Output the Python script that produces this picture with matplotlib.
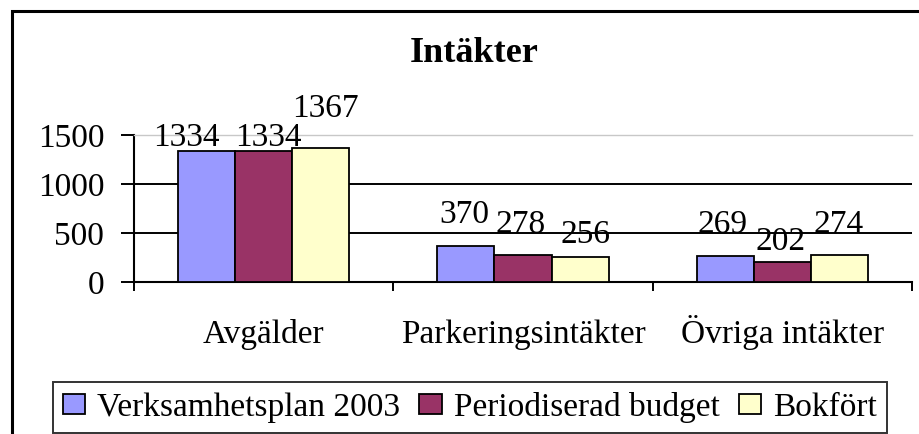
import matplotlib
matplotlib.use("Agg")
import matplotlib.pyplot as plt
import matplotlib.patches as mpatches
import numpy as np

# ---- data ----
categories = ["Avgälder", "Parkeringsintäkter", "Övriga intäkter"]
series_names = ["Verksamhetsplan 2003", "Periodiserad budget", "Bokfört"]
verksamhetsplan = [1334, 370, 269]
periodiserad = [1334, 278, 202]
bokfort = [1367, 256, 274]
yticks = [0, 500, 1000, 1500]
title = "Intäkter"

# ---- style ----
colors = ["#9999FF", "#993366", "#FFFFCC"]
# label offsets (pixels) relative to bar top centre, per series/category
label_dx = [[-20, -2, -3], [5, -2, -2], [5, 5, -1]]
label_dy = [[5, 23, 23], [5, 22, 12], [31, 14, 22]]

plt.rcParams["font.family"] = ["Liberation Serif", "DejaVu Serif"]
fs = 24

fig = plt.figure(figsize=(9.2, 4.34), dpi=100)
W, H = 920, 434
ax = fig.add_axes([134 / W, 1 - 282 / H, (912 - 134) / W, (282 - 135) / H])

series = [verksamhetsplan, periodiserad, bokfort]
x = np.arange(len(categories))
bw = 0.22
for i, (vals, col) in enumerate(zip(series, colors)):
    pos = x + (i - 1) * bw
    ax.bar(pos, vals, width=bw, color=col, edgecolor="black", linewidth=1.3,
           label=series_names[i], zorder=3)
    for j, v in enumerate(vals):
        ax.annotate(str(v), xy=(pos[j], v), xytext=(label_dx[i][j], label_dy[i][j]),
                    textcoords="offset pixels", ha="center", va="baseline",
                    fontsize=fs, zorder=5, annotation_clip=False)

ax.set_xlim(-0.5, len(categories) - 0.5)
ax.set_ylim(0, 1500)
ax.set_yticks(yticks)
ax.set_yticklabels([str(t) for t in yticks], fontsize=fs)
for t in [500, 1000]:
    ax.axhline(t, color="black", linewidth=1.4, zorder=1)

ax.set_xticks(np.arange(-0.5, len(categories), 1.0))
ax.set_xticklabels([])
ax.set_xticks(x, minor=True)
ax.set_xticklabels(categories, minor=True, fontsize=fs)
for lab in ax.get_xticklabels(minor=True):
    lab.set_verticalalignment("baseline")
ax.tick_params(axis="x", which="major", direction="out", length=6.5, width=1.4)
ax.tick_params(axis="x", which="minor", length=0, pad=44)
ax.tick_params(axis="y", direction="out", length=9.5, width=1.4, pad=12)

ax.spines["right"].set_visible(False)
ax.spines["top"].set_color("#c8c8c8")
ax.spines["top"].set_linewidth(1.0)
ax.spines["left"].set_linewidth(1.5)
ax.spines["bottom"].set_linewidth(1.5)

fig.text(474 / W, 1 - 62 / H, title, ha="center", va="baseline",
         fontsize=26, fontweight="bold")

leg = fig.legend(loc="center", bbox_to_anchor=(470 / W, 1 - 407.5 / H), ncol=3,
                 fontsize=fs, frameon=True, fancybox=False, edgecolor="black",
                 handlelength=0.67, handleheight=0.52, handletextpad=0.36,
                 columnspacing=0.58, borderpad=0.3, borderaxespad=0)
leg.get_frame().set_linewidth(1.4)

frame = mpatches.Rectangle((11.5 / W, -0.2), 2, 1.2 - 11.5 / H,
                           transform=fig.transFigure, fill=False,
                           edgecolor="black", linewidth=2.2, clip_on=False)
fig.patches.append(frame)

fig.savefig("out.png", dpi=100)
